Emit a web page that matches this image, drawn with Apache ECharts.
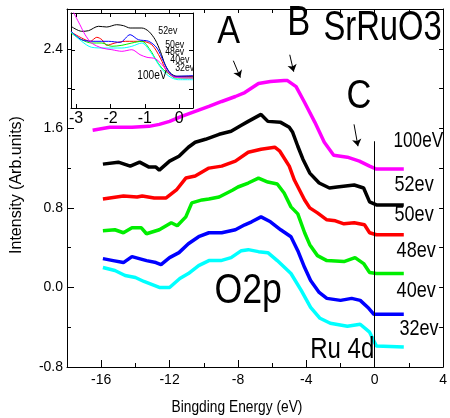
<!DOCTYPE html>
<html>
<head>
<meta charset="utf-8">
<script src="https://cdn.jsdelivr.net/npm/echarts@6/dist/echarts.min.js"></script>
<style>
  html, body { margin: 0; background: #fff; }
  #main { width: 450px; height: 418px; }
</style>
</head>
<body>
<div id="main"></div>
<script>
// main panel: valence band spectra of SrRuO3 at several photon energies (x = binding energy, eV)
const spec100 = [[-16.5,1.58],[-15.5,1.61],[-14.2,1.61],[-13.2,1.62],[-12.6,1.64],[-12.0,1.67],[-11.3,1.72],[-10.5,1.77],[-9.7,1.82],[-8.95,1.87],[-8.15,1.92],[-7.6,1.96],[-6.8,2.05],[-6.1,2.07],[-5.3,2.08],[-5.1,2.08],[-4.6,2.02],[-4.1,1.86],[-3.5,1.66],[-2.95,1.46],[-2.4,1.33],[-1.6,1.31],[-0.9,1.27],[-0.3,1.22],[0.1,1.19],[0.9,1.19],[1.7,1.19]];
const spec52 = [[-15.9,1.24],[-15.0,1.26],[-14.3,1.22],[-13.75,1.26],[-13.2,1.21],[-12.8,1.21],[-12.6,1.18],[-12.0,1.27],[-11.45,1.32],[-10.9,1.41],[-10.5,1.46],[-9.9,1.49],[-9.1,1.54],[-8.4,1.57],[-7.8,1.63],[-7.4,1.67],[-6.65,1.74],[-6.25,1.67],[-5.5,1.66],[-5.0,1.61],[-4.8,1.56],[-4.5,1.42],[-4.2,1.29],[-3.8,1.15],[-3.25,1.05],[-2.65,1.00],[-2.2,1.01],[-1.2,1.03],[-0.65,1.00],[-0.3,0.86],[0.1,0.83],[1.7,0.83]];
const spec50 = [[-15.9,0.89],[-14.7,0.92],[-13.9,0.91],[-13.6,0.92],[-12.9,0.90],[-12.2,0.90],[-11.6,0.98],[-11.05,1.10],[-10.5,1.12],[-9.7,1.20],[-8.95,1.22],[-8.15,1.27],[-7.4,1.36],[-6.65,1.39],[-5.85,1.41],[-5.55,1.37],[-5.0,1.22],[-4.7,1.08],[-4.4,0.98],[-4.1,0.88],[-3.8,0.80],[-3.35,0.75],[-2.8,0.68],[-2.3,0.67],[-1.8,0.64],[-1.2,0.65],[-0.6,0.63],[-0.3,0.55],[0.1,0.53],[1.7,0.53]];
const spec48 = [[-15.9,0.57],[-15.2,0.58],[-14.7,0.55],[-14.2,0.60],[-13.65,0.60],[-13.35,0.54],[-12.6,0.58],[-11.9,0.65],[-11.55,0.62],[-11.05,0.71],[-10.7,0.85],[-10.1,0.88],[-9.7,0.89],[-9.1,0.91],[-8.3,0.98],[-8.0,1.01],[-7.4,1.05],[-6.8,1.10],[-6.25,1.06],[-5.7,1.04],[-5.3,0.95],[-4.9,0.81],[-4.5,0.74],[-4.1,0.55],[-3.8,0.43],[-3.35,0.32],[-2.8,0.27],[-1.8,0.26],[-1.15,0.30],[-0.65,0.24],[-0.3,0.15],[0.1,0.14],[1.7,0.14]];
const spec40 = [[-15.9,0.29],[-15.3,0.27],[-14.7,0.25],[-14.2,0.31],[-13.35,0.27],[-12.8,0.25],[-12.5,0.23],[-12.0,0.30],[-11.45,0.35],[-10.9,0.44],[-10.3,0.51],[-9.7,0.55],[-8.95,0.55],[-8.15,0.58],[-7.6,0.63],[-7.2,0.66],[-6.65,0.71],[-6.1,0.66],[-5.5,0.58],[-4.9,0.51],[-4.5,0.37],[-4.1,0.20],[-3.75,0.07],[-3.25,-0.05],[-2.8,-0.11],[-2.0,-0.13],[-1.35,-0.11],[-0.85,-0.13],[-0.35,-0.21],[-0.05,-0.27],[1.7,-0.27]];
const spec32 = [[-15.9,0.20],[-15.2,0.17],[-14.6,0.12],[-14.0,0.10],[-13.5,0.06],[-12.9,0.02],[-12.6,0.00],[-12.0,0.00],[-11.4,0.09],[-10.9,0.14],[-10.3,0.22],[-9.7,0.27],[-9.0,0.27],[-8.4,0.30],[-7.8,0.37],[-7.4,0.38],[-6.8,0.36],[-6.25,0.35],[-5.7,0.27],[-4.9,0.14],[-4.3,-0.03],[-3.75,-0.20],[-3.2,-0.31],[-2.6,-0.36],[-1.6,-0.39],[-0.85,-0.37],[-0.3,-0.45],[0.1,-0.59],[1.7,-0.60]];

// inset: near the Fermi level (arbitrary intensity units)
const inset52 = [[-3.15,81.7],[-2.84,76.7],[-2.64,77.3],[-2.35,81.7],[-2.11,81],[-1.82,83.3],[-1.62,82.3],[-1.43,80],[-1.09,80],[-0.89,76.7],[-0.7,68.3],[-0.55,56.7],[-0.41,43.3],[-0.26,35],[-0.07,31.7],[0.4,31.7]];
const inset50 = [[-3.15,76],[-2.84,70],[-2.59,66.7],[-2.4,70.7],[-2.25,68.3],[-2.11,62.7],[-1.87,65],[-1.57,66.7],[-1.09,66.7],[-0.8,63.3],[-0.55,50],[-0.36,36.7],[-0.17,31.7],[0.4,31]];
const inset48 = [[-3.15,75],[-2.84,68.3],[-2.55,65],[-2.25,65],[-1.96,61.7],[-1.67,62.7],[-1.38,65],[-1.09,66.7],[-0.85,58.3],[-0.65,46.7],[-0.46,38.3],[-0.26,33.3],[-0.12,30],[0.4,30]];
const inset40 = [[-3.15,76.7],[-2.84,68.3],[-2.45,66.7],[-2.06,66.7],[-1.72,65.7],[-1.43,73.3],[-1.19,68.3],[-0.89,66.7],[-0.65,60],[-0.46,46.7],[-0.31,36.7],[-0.12,31.7],[0.4,32.3]];
const inset32 = [[-3.15,76],[-2.84,66.7],[-2.55,60.7],[-2.16,60],[-1.67,60],[-1.38,61.7],[-1.09,65],[-0.85,56.7],[-0.6,43.3],[-0.41,35],[-0.21,30],[-0.02,28.3],[0.4,28.3]];
const inset100 = [[-3.1,97],[-2.89,83.3],[-2.74,73.3],[-2.55,65],[-2.25,60],[-1.96,58.3],[-1.67,56.7],[-1.38,58.3],[-1.14,53.3],[-0.94,50.7],[-0.7,49.3],[-0.5,43.3],[-0.31,35],[-0.12,30.7],[0.4,30]];

const xTicks = [-16, -12, -8, -4, 0, 4];
const yTicks = [-0.8, 0, 0.8, 1.6, 2.4];
const insetXTicks = [-3, -2, -1, 0];
const insetYTicks = [19, 58];

const colors = { '100eV': '#ff00ff', '52ev': '#000000', '50ev': '#ff0000', '48ev': '#00ee00', '40ev': '#0000ff', '32ev': '#00ffff' };
const mainSeries = [['100eV', spec100], ['52ev', spec52], ['50ev', spec50], ['48ev', spec48], ['40ev', spec40], ['32ev', spec32]];
const insetSeries = [['52ev', inset52], ['50ev', inset50], ['48ev', inset48], ['40ev', inset40], ['32ev', inset32], ['100eV', inset100]];

// arrows A, B, C (binding energy, intensity)
const arrows = [[[-8.27, 2.28], [-7.86, 2.11]], [[-4.97, 2.34], [-4.74, 2.17]], [[-1.21, 1.64], [-0.98, 1.42]]];

const FONT = 'Liberation Sans';
const chart = echarts.init(document.getElementById('main'));

const frameAxis = (extra) => Object.assign({
  type: 'value',
  axisLine: { show: true, onZero: false, lineStyle: { color: '#000', width: 1 } },
  axisTick: { show: true, inside: true, length: 4, lineStyle: { color: '#000' } },
  axisLabel: { show: false },
  splitLine: { show: false }
}, extra);

const option = {
  animation: false,
  backgroundColor: '#fff',
  textStyle: { fontFamily: FONT },
  grid: [
    { left: 67, right: 3, top: 9, bottom: 51 },
    { left: 71, top: 13, width: 122, height: 95, show: true, backgroundColor: '#fff', borderWidth: 0, z: 5 }
  ],
  xAxis: [
    frameAxis({ gridIndex: 0, position: 'bottom', min: -18, max: 4,
      axisTick: { show: true, inside: true, length: 7, customValues: xTicks, lineStyle: { color: '#000' } },
      axisLabel: { show: true, customValues: xTicks, color: '#000', fontSize: 14, margin: 6 } }),
    frameAxis({ gridIndex: 0, position: 'bottom', min: -18, max: 4, interval: 2, axisLine: { show: false, onZero: false } }),
    frameAxis({ gridIndex: 0, position: 'top', min: -18, max: 4, interval: 2 }),
    frameAxis({ gridIndex: 1, position: 'bottom', min: -3.15, max: 0.4, z: 6,
      axisTick: { show: true, inside: true, length: 4, customValues: insetXTicks, lineStyle: { color: '#000' } },
      axisLabel: { show: true, customValues: insetXTicks, color: '#000', fontSize: 16, margin: 3 } }),
    frameAxis({ gridIndex: 1, position: 'top', min: -3.15, max: 0.4, z: 6,
      axisTick: { show: true, inside: true, length: 4, customValues: insetXTicks, lineStyle: { color: '#000' } } })
  ],
  yAxis: [
    frameAxis({ gridIndex: 0, position: 'left', min: -0.8, max: 2.8,
      axisTick: { show: true, inside: true, length: 7, customValues: yTicks, lineStyle: { color: '#000' } },
      axisLabel: { show: true, customValues: yTicks, color: '#000', fontSize: 14, margin: 4, formatter: v => v.toFixed(1) } }),
    frameAxis({ gridIndex: 0, position: 'left', min: -0.8, max: 2.8, interval: 0.4, axisLine: { show: false, onZero: false } }),
    frameAxis({ gridIndex: 0, position: 'right', min: -0.8, max: 2.8, interval: 0.4 }),
    frameAxis({ gridIndex: 1, position: 'left', min: 0, max: 95, z: 6,
      axisTick: { show: true, inside: true, length: 4, customValues: insetYTicks, lineStyle: { color: '#000' } } }),
    frameAxis({ gridIndex: 1, position: 'right', min: 0, max: 95, z: 6,
      axisTick: { show: true, inside: true, length: 4, customValues: insetYTicks, lineStyle: { color: '#000' } } })
  ],
  series: []
};

mainSeries.forEach(([name, data], i) => {
  const s = {
    type: 'line', name, xAxisIndex: 0, yAxisIndex: 0, data,
    symbol: 'none', lineStyle: { width: 3.5, color: colors[name] }, itemStyle: { color: colors[name] }, z: 3
  };
  if (i === 0) {
    s.markLine = {
      silent: true, symbol: ['none', 'arrow'], symbolSize: 7, label: { show: false },
      lineStyle: { color: '#000', width: 1, type: 'solid' },
      data: arrows.map(a => [{ coord: a[0] }, { coord: a[1] }])
    };
  }
  if (i === 1) {
    s.markLine = {
      silent: true, symbol: ['none', 'none'], label: { show: false },
      lineStyle: { color: '#000', width: 1, type: 'solid' },
      data: [[{ coord: [0, -0.8] }, { coord: [0, 1.47] }]]
    };
  }
  option.series.push(s);
});

insetSeries.forEach(([name, data]) => {
  option.series.push({
    type: 'line', name, xAxisIndex: 3, yAxisIndex: 3, data, smooth: 0.3,
    symbol: 'none', lineStyle: { width: 1, color: colors[name] }, z: 7
  });
});

chart.setOption(option);

// text annotations placed at data coordinates
const main = p => chart.convertToPixel({ xAxisIndex: 0, yAxisIndex: 0 }, p);
const ins = p => chart.convertToPixel({ xAxisIndex: 3, yAxisIndex: 3 }, p);
function txt(str, pos, size, sx, align, z) {
  return {
    type: 'text', x: pos[0], y: pos[1], scaleX: sx, z: z || 10,
    style: { text: str, fontFamily: FONT, fontSize: size, fill: '#000', align: align || 'center', verticalAlign: 'middle' }
  };
}

const graphic = [
  txt('A', main([-8.55, 2.56]), 38, 0.9),
  txt('B', main([-4.45, 2.65]), 42, 0.82),
  txt('SrRuO3', main([0.46, 2.60]), 42, 0.78),
  txt('C', main([-0.92, 1.92]), 40, 0.86),
  txt('O2p', main([-7.4, -0.04]), 42, 0.85),
  txt('Ru 4d', main([-1.9, -0.63]), 30, 0.8),
  txt('100eV', main([1.1, 1.47]), 22, 0.78, 'left'),
  txt('52ev', main([1.16, 1.03]), 22, 0.82, 'left'),
  txt('50ev', main([1.16, 0.73]), 22, 0.82, 'left'),
  txt('48ev', main([1.28, 0.37]), 22, 0.82, 'left'),
  txt('40ev', main([1.28, -0.04]), 22, 0.82, 'left'),
  txt('32ev', main([1.45, -0.42]), 22, 0.82, 'left'),
  txt('52ev', ins([-0.61, 77]), 11, 0.8, 'left', 20),
  txt('50ev', ins([-0.41, 63.5]), 11, 0.8, 'left', 20),
  txt('48ev', ins([-0.41, 56.5]), 11, 0.8, 'left', 20),
  txt('40ev', ins([-0.26, 48.5]), 11, 0.8, 'left', 20),
  txt('32ev', ins([-0.12, 40]), 11, 0.8, 'left', 20),
  txt('100eV', ins([-1.22, 33]), 13, 0.78, 'left', 20),
  txt('Bingding Energy (eV)', [237, 407], 17, 0.81),
  Object.assign(txt('Intensity (Arb.units)', [17, 185], 16, 1), { rotation: Math.PI / 2 })
];
chart.setOption({ graphic });
</script>
</body>
</html>
